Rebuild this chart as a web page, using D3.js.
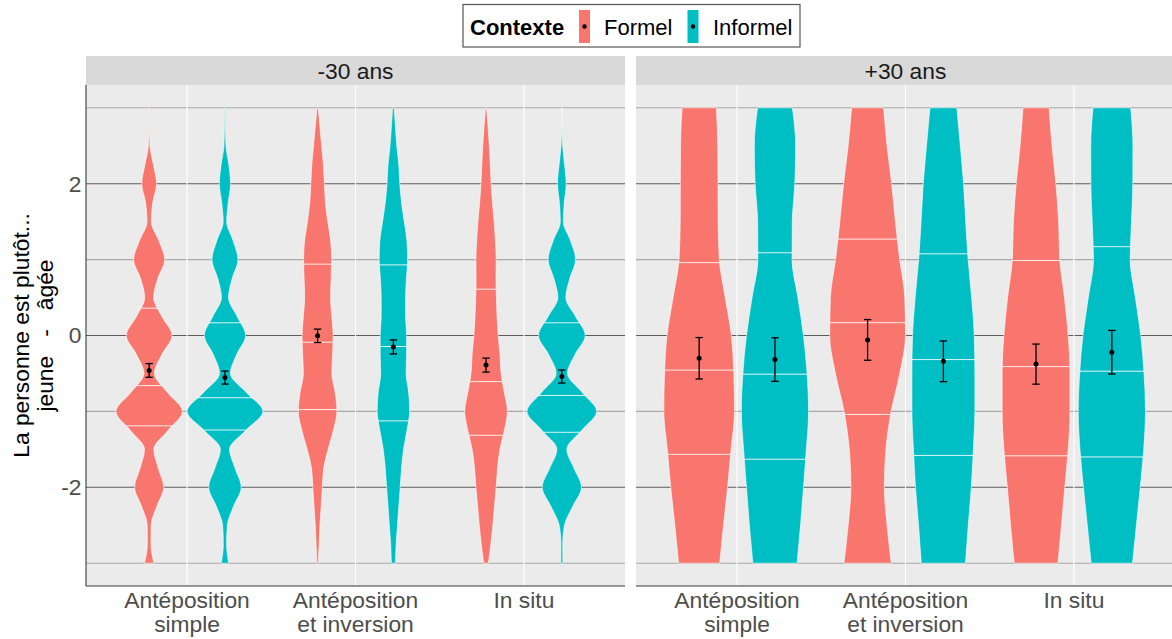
<!DOCTYPE html>
<html>
<head>
<meta charset="utf-8">
<script src="https://cdn.jsdelivr.net/npm/d3@7"></script>
<style>
  body { margin: 0; background: #fff; }
  text { font-family: "Liberation Sans", Arial, Helvetica, sans-serif; }
</style>
</head>
<body>
<svg id="chart" width="1172" height="639"></svg>
<script>
// ---- données ----
const panels = ["-30 ans", "+30 ans"];
const categories = ["Antéposition simple", "Antéposition et inversion", "In situ"];
const categoryLines = [["Antéposition", "simple"], ["Antéposition", "et inversion"], ["In situ"]];
const contextes = ["Formel", "Informel"];
const couleurs = ["#F8766D", "#00BFC4"];
const yMajor = [-2, 0, 2];
const yMinor = [-3, -1, 1, 3];

// niveaux où la densité a été relevée
const niveauxJeunes = [3, 2.75, 2.5, 2.25, 2, 1.75, 1.5, 1.25, 1, 0.75, 0.5, 0.25, 0,
  -0.25, -0.5, -0.75, -1, -1.25, -1.5, -1.75, -2, -2.25, -2.5, -2.75, -3];
const niveauxAges = [3, 2.5, 2, 1.5, 1, 0.5, 0, -0.5, -1, -1.5, -2, -2.5, -3];

// densités (unités relatives) par catégorie
const densJeunesFormel = [
  [0.3, 0.3, 0.8, 4.2, 7.3, 3.5, 2.1, 9.5, 15.3, 8.5, 4.4, 12.5, 22.5, 12.5, 5.2, 18, 32.7, 18.5, 4.6, 9, 14.3, 7.5, 1.9, 1.8, 4.7],
  [0.6, 2.3, 4, 5.7, 6.7, 7.7, 10, 12.8, 13.8, 13.3, 12.7, 14, 15.3, 14.7, 14, 17.3, 19, 15.5, 10.3, 6, 4.7, 3.5, 2.3, 1.5, 0.7],
  [0.5, 2, 3.2, 4.2, 5, 6.3, 8, 9.2, 10, 9.8, 10.2, 10.8, 12, 13.7, 14.8, 18, 21, 18, 13.7, 11.3, 10, 8.3, 6.7, 4.7, 2.3]
];
const densJeunesInformel = [
  [0.3, 0.5, 1.0, 3.8, 5.5, 3.2, 1.7, 8, 12.8, 7.1, 3.5, 12, 20.3, 11.5, 5.4, 21, 37.3, 20.5, 4.5, 10, 16, 8.5, 2.3, 1.6, 3.7],
  [0.7, 2, 3.3, 5.3, 6.3, 8, 10.7, 13.3, 14, 12.8, 12, 12, 13, 13, 12.5, 15, 16, 13.3, 10, 8, 6.7, 5.3, 4, 2.7, 2],
  [0, 0.2, 0.8, 2.7, 4.3, 2.4, 1.5, 8.5, 13.5, 7.8, 3.9, 13.5, 23, 13, 5.6, 20, 34.3, 19.5, 4.9, 12, 19.3, 10.8, 2.6, 0.9, 1]
];
const densAgesFormel = [
  [16.8, 18.3, 18.5, 18.6, 19.8, 25.6, 31.6, 34, 34.7, 31.3, 27.9, 23.9, 20.2],
  [15.7, 19.1, 23.6, 27.3, 31.5, 36.5, 37.2, 31.6, 23.1, 18, 16.4, 19.1, 23.2],
  [12.8, 15.7, 19.5, 22.2, 23.3, 27.9, 31.6, 33.3, 33.3, 31.6, 28.2, 25, 21.5]
];
const densAgesInformel = [
  [17.1, 20.3, 19.5, 17, 16.8, 22.5, 28, 31.5, 33, 30.8, 28, 25.1, 21.7],
  [13.2, 16.6, 19.8, 21.9, 24.3, 27.7, 30.3, 30.9, 30.9, 29.4, 27.4, 24.4, 21.7],
  [18.5, 20.7, 20.6, 19.3, 18, 23.1, 28.4, 31.6, 33, 31.3, 27.9, 24.1, 20.3]
];

// quartiles (25 %, 50 %, 75 %)
const quantJeunesFormel = [[0.36, -0.66, -1.19], [0.94, -0.088, -0.976], [0.61, -0.607, -1.315]];
const quantJeunesInformel = [[0.167, -0.82, -1.245], [0.93, -0.145, -1.125], [0.167, -0.79, -1.275]];
const quantAgesFormel = [[0.96, -0.456, -1.566], [1.27, 0.169, -1.04], [0.988, -0.41, -1.585]];
const quantAgesInformel = [[1.09, -0.51, -1.63], [1.076, -0.317, -1.58], [1.17, -0.47, -1.6]];

// moyennes et erreurs standard
const moyJeunesFormel = [-0.46, -0.004, -0.39];
const seJeunesFormel = [0.09, 0.088, 0.092];
const moyJeunesInformel = [-0.554, -0.15, -0.54];
const seJeunesInformel = [0.086, 0.092, 0.086];
const moyAgesFormel = [-0.30, -0.058, -0.377];
const seAgesFormel = [0.273, 0.268, 0.264];
const moyAgesInformel = [-0.317, -0.34, -0.22];
const seAgesInformel = [0.287, 0.268, 0.287];

// ---- table ----
const sources = [
  { niveaux: niveauxJeunes, dens: [densJeunesFormel, densJeunesInformel], quant: [quantJeunesFormel, quantJeunesInformel],
    moy: [moyJeunesFormel, moyJeunesInformel], se: [seJeunesFormel, seJeunesInformel] },
  { niveaux: niveauxAges, dens: [densAgesFormel, densAgesInformel], quant: [quantAgesFormel, quantAgesInformel],
    moy: [moyAgesFormel, moyAgesInformel], se: [seAgesFormel, seAgesInformel] }
];
const violins = [];
panels.forEach((p, pi) => {
  const s = sources[pi];
  categories.forEach((c, ci) => {
    contextes.forEach((k, ki) => {
      violins.push({
        panel: p, pi: pi, cat: c, ctx: k, ki: ki,
        profil: s.niveaux.map((v, i) => [v, s.dens[ki][ci][i]]),
        quant: s.quant[ki][ci], moy: s.moy[ki][ci], se: s.se[ki][ci]
      });
    });
  });
});

// ---- mise en page ----
const svg = d3.select("#chart");
const panelTop = 85, panelBottom = 586, panelWidth = 539;
const panelLefts = [86, 636];
const stripTop = 56;

const y = d3.scaleLinear().domain([-3.3, 3.3]).range([panelBottom, panelTop]);
const defs = svg.append("defs");

panels.forEach((p, pi) => {
  const left = panelLefts[pi];
  const x = d3.scalePoint().domain(categories).range([left, left + panelWidth]).padding(0.6);
  const step = x.step();
  const dodge = d3.scaleBand().domain(contextes).range([-0.45 * step, 0.45 * step]);
  const data = violins.filter(d => d.pi === pi);
  const maxDens = d3.max(data, d => d3.max(d.profil, e => e[1]));
  const w = d3.scaleLinear().domain([0, maxDens]).range([0, dodge.bandwidth() / 2]);

  const g = svg.append("g");
  defs.append("clipPath").attr("id", "clip" + pi)
    .append("rect").attr("x", left).attr("y", panelTop).attr("width", panelWidth).attr("height", panelBottom - panelTop);

  // strip
  g.append("rect").attr("x", left).attr("y", stripTop).attr("width", panelWidth).attr("height", panelTop - stripTop)
    .attr("fill", "#D9D9D9");
  g.append("text").attr("x", left + panelWidth / 2).attr("y", 79).attr("text-anchor", "middle")
    .attr("font-size", 22.8).attr("fill", "#1A1A1A").text(p);

  // fond
  const pg = g.append("g").attr("clip-path", "url(#clip" + pi + ")");
  pg.append("rect").attr("x", left).attr("y", panelTop).attr("width", panelWidth).attr("height", panelBottom - panelTop)
    .attr("fill", "#EBEBEB");
  pg.selectAll("line.minor").data(yMinor).join("line").attr("class", "minor")
    .attr("x1", left).attr("x2", left + panelWidth).attr("y1", d => y(d)).attr("y2", d => y(d))
    .attr("stroke", "#A9A9A9").attr("stroke-width", 1.1);
  pg.selectAll("line.major").data(yMajor).join("line").attr("class", "major")
    .attr("x1", left).attr("x2", left + panelWidth).attr("y1", d => y(d)).attr("y2", d => y(d))
    .attr("stroke", "#5C5C5C").attr("stroke-width", 1.1);
  pg.selectAll("line.vx").data(categories).join("line").attr("class", "vx")
    .attr("x1", d => x(d)).attr("x2", d => x(d)).attr("y1", panelTop).attr("y2", panelBottom)
    .attr("stroke", "#FFFFFF").attr("stroke-width", 1.1);

  // violons
  data.forEach((d, i) => {
    const cx = x(d.cat) + dodge(d.ctx) + dodge.bandwidth() / 2;
    const area = d3.area().curve(d3.curveMonotoneY)
      .y(e => y(e[0])).x0(e => cx - w(e[1])).x1(e => cx + w(e[1]));
    const path = area(d.profil);
    const id = "v" + pi + "_" + i;
    defs.append("clipPath").attr("id", id).append("path").attr("d", path);
    pg.append("path").attr("d", path).attr("fill", couleurs[d.ki])
      .attr("stroke", "#FFFFFF").attr("stroke-width", 0.6);
    pg.append("g").attr("clip-path", "url(#" + id + ")")
      .selectAll("line").data(d.quant).join("line")
      .attr("x1", cx - 45).attr("x2", cx + 45).attr("y1", q => y(q)).attr("y2", q => y(q))
      .attr("stroke", "#FFFFFF").attr("stroke-width", 1).attr("stroke-opacity", 0.85);
    // moyenne et erreur standard
    const eb = pg.append("g").attr("stroke", "#000").attr("stroke-width", 1.3);
    eb.append("line").attr("x1", cx).attr("x2", cx).attr("y1", y(d.moy - d.se)).attr("y2", y(d.moy + d.se));
    eb.append("line").attr("x1", cx - 3.7).attr("x2", cx + 3.7).attr("y1", y(d.moy - d.se)).attr("y2", y(d.moy - d.se));
    eb.append("line").attr("x1", cx - 3.7).attr("x2", cx + 3.7).attr("y1", y(d.moy + d.se)).attr("y2", y(d.moy + d.se));
    pg.append("circle").attr("cx", cx).attr("cy", y(d.moy)).attr("r", 2.5).attr("fill", "#000");
  });

  // axe x
  g.append("line").attr("x1", left).attr("x2", left + panelWidth).attr("y1", panelBottom).attr("y2", panelBottom)
    .attr("stroke", "#3A3A3A").attr("stroke-width", 1.1);
  categories.forEach((c, ci) => {
    const t = g.append("text").attr("x", x(c)).attr("y", 607.5).attr("text-anchor", "middle")
      .attr("font-size", 22.8).attr("fill", "#4D4D4D");
    categoryLines[ci].forEach((l, li) => {
      t.append("tspan").attr("x", x(c)).attr("dy", li === 0 ? 0 : 24.5).text(l);
    });
  });

  // axe y (premier panneau seulement)
  if (pi === 0) {
    g.append("line").attr("x1", left).attr("x2", left).attr("y1", panelTop).attr("y2", panelBottom)
      .attr("stroke", "#3A3A3A").attr("stroke-width", 1.1);
    g.selectAll("text.yt").data(yMajor).join("text").attr("class", "yt")
      .attr("x", left - 4.5).attr("y", d => y(d)).attr("dy", "0.35em").attr("text-anchor", "end")
      .attr("font-size", 22.8).attr("fill", "#4D4D4D").text(d => d);
  }
});

// titre de l'axe y
const yMid = (panelTop + panelBottom) / 2;
svg.append("text").attr("transform", `translate(29,${yMid}) rotate(-90)`).attr("text-anchor", "middle")
  .attr("font-size", 22.8).attr("fill", "#000").text("La personne est plutôt...");
svg.append("text").attr("transform", `translate(53,${yMid}) rotate(-90)`).attr("text-anchor", "middle")
  .attr("font-size", 22.8).attr("fill", "#000").style("white-space", "pre").text("jeune   -   âgée");

// légende
const leg = svg.append("g");
leg.append("rect").attr("x", 463).attr("y", 4.5).attr("width", 337).attr("height", 42.5)
  .attr("fill", "#fff").attr("stroke", "#555").attr("stroke-width", 1.2);
leg.append("text").attr("x", 470).attr("y", 34.5).attr("font-size", 22).attr("font-weight", "bold").text("Contexte");
const keyX = [579, 687.5];
const labelX = [604, 713];
contextes.forEach((k, ki) => {
  leg.append("rect").attr("x", keyX[ki]).attr("y", 10).attr("width", 11).attr("height", 33)
    .attr("fill", couleurs[ki]);
  leg.append("circle").attr("cx", keyX[ki] + 5.5).attr("cy", 26.5).attr("r", 2.2).attr("fill", "#000");
  leg.append("text").attr("x", labelX[ki]).attr("y", 34.5).attr("font-size", 22).text(k);
});
</script>
</body>
</html>
